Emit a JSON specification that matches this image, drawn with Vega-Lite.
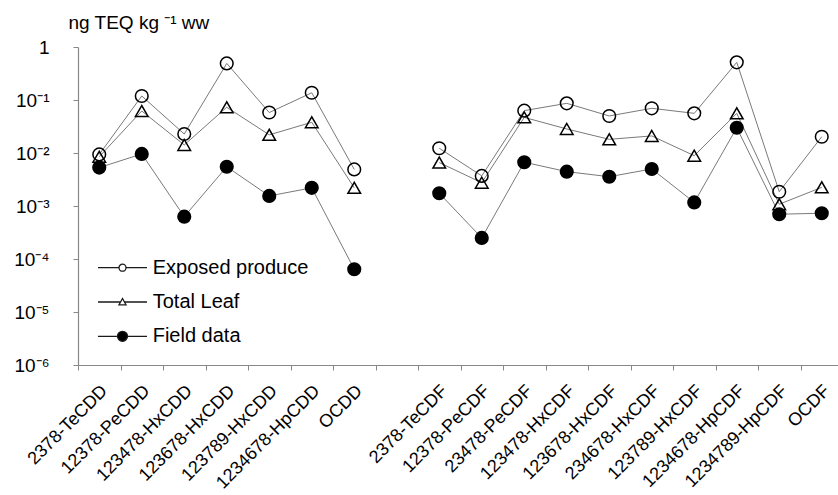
{
  "$schema": "https://vega.github.io/schema/vega-lite/v6.json",
  "autosize": {"type": "none"},
  "width": 760,
  "height": 318,
  "padding": {"left": 78, "top": 47, "right": 0, "bottom": 130},
  "background": "white",
  "config": {
    "font": "Liberation Sans",
    "view": {"stroke": null},
    "axis": {"grid": false, "domainColor": "#888888", "tickColor": "#888888", "labelColor": "#000000", "titleColor": "#000000", "labelFont": "Liberation Sans", "titleFont": "Liberation Sans"},
    "legend": {"labelFont": "Liberation Sans"}
  },
  "data": {
    "values": [
      {"compound": "2378-TeCDD", "group": "PCDD", "series": "Exposed produce", "value": 0.0094},
      {"compound": "12378-PeCDD", "group": "PCDD", "series": "Exposed produce", "value": 0.119},
      {"compound": "123478-HxCDD", "group": "PCDD", "series": "Exposed produce", "value": 0.0228},
      {"compound": "123678-HxCDD", "group": "PCDD", "series": "Exposed produce", "value": 0.49},
      {"compound": "123789-HxCDD", "group": "PCDD", "series": "Exposed produce", "value": 0.058},
      {"compound": "1234678-HpCDD", "group": "PCDD", "series": "Exposed produce", "value": 0.137},
      {"compound": "OCDD", "group": "PCDD", "series": "Exposed produce", "value": 0.0049},
      {"compound": "2378-TeCDF", "group": "PCDF", "series": "Exposed produce", "value": 0.0123},
      {"compound": "12378-PeCDF", "group": "PCDF", "series": "Exposed produce", "value": 0.0037},
      {"compound": "23478-PeCDF", "group": "PCDF", "series": "Exposed produce", "value": 0.063},
      {"compound": "123478-HxCDF", "group": "PCDF", "series": "Exposed produce", "value": 0.0865},
      {"compound": "123678-HxCDF", "group": "PCDF", "series": "Exposed produce", "value": 0.05},
      {"compound": "234678-HxCDF", "group": "PCDF", "series": "Exposed produce", "value": 0.0697},
      {"compound": "123789-HxCDF", "group": "PCDF", "series": "Exposed produce", "value": 0.056},
      {"compound": "1234678-HpCDF", "group": "PCDF", "series": "Exposed produce", "value": 0.514},
      {"compound": "1234789-HpCDF", "group": "PCDF", "series": "Exposed produce", "value": 0.00186},
      {"compound": "OCDF", "group": "PCDF", "series": "Exposed produce", "value": 0.0203},
      {"compound": "2378-TeCDD", "group": "PCDD", "series": "Total Leaf", "value": 0.0085},
      {"compound": "12378-PeCDD", "group": "PCDD", "series": "Total Leaf", "value": 0.062},
      {"compound": "123478-HxCDD", "group": "PCDD", "series": "Total Leaf", "value": 0.0142},
      {"compound": "123678-HxCDD", "group": "PCDD", "series": "Total Leaf", "value": 0.073},
      {"compound": "123789-HxCDD", "group": "PCDD", "series": "Total Leaf", "value": 0.022},
      {"compound": "1234678-HpCDD", "group": "PCDD", "series": "Total Leaf", "value": 0.038},
      {"compound": "OCDD", "group": "PCDD", "series": "Total Leaf", "value": 0.0022},
      {"compound": "2378-TeCDF", "group": "PCDF", "series": "Total Leaf", "value": 0.0066},
      {"compound": "12378-PeCDF", "group": "PCDF", "series": "Total Leaf", "value": 0.00275},
      {"compound": "23478-PeCDF", "group": "PCDF", "series": "Total Leaf", "value": 0.047},
      {"compound": "123478-HxCDF", "group": "PCDF", "series": "Total Leaf", "value": 0.0284},
      {"compound": "123678-HxCDF", "group": "PCDF", "series": "Total Leaf", "value": 0.0181},
      {"compound": "234678-HxCDF", "group": "PCDF", "series": "Total Leaf", "value": 0.021},
      {"compound": "123789-HxCDF", "group": "PCDF", "series": "Total Leaf", "value": 0.0089},
      {"compound": "1234678-HpCDF", "group": "PCDF", "series": "Total Leaf", "value": 0.056},
      {"compound": "1234789-HpCDF", "group": "PCDF", "series": "Total Leaf", "value": 0.00108},
      {"compound": "OCDF", "group": "PCDF", "series": "Total Leaf", "value": 0.00225},
      {"compound": "2378-TeCDD", "group": "PCDD", "series": "Field data", "value": 0.0053},
      {"compound": "12378-PeCDD", "group": "PCDD", "series": "Field data", "value": 0.0096},
      {"compound": "123478-HxCDD", "group": "PCDD", "series": "Field data", "value": 0.00063},
      {"compound": "123678-HxCDD", "group": "PCDD", "series": "Field data", "value": 0.0055},
      {"compound": "123789-HxCDD", "group": "PCDD", "series": "Field data", "value": 0.00155},
      {"compound": "1234678-HpCDD", "group": "PCDD", "series": "Field data", "value": 0.0022},
      {"compound": "OCDD", "group": "PCDD", "series": "Field data", "value": 0.000064},
      {"compound": "2378-TeCDF", "group": "PCDF", "series": "Field data", "value": 0.00174},
      {"compound": "12378-PeCDF", "group": "PCDF", "series": "Field data", "value": 0.00025},
      {"compound": "23478-PeCDF", "group": "PCDF", "series": "Field data", "value": 0.0067},
      {"compound": "123478-HxCDF", "group": "PCDF", "series": "Field data", "value": 0.00445},
      {"compound": "123678-HxCDF", "group": "PCDF", "series": "Field data", "value": 0.00357},
      {"compound": "234678-HxCDF", "group": "PCDF", "series": "Field data", "value": 0.005},
      {"compound": "123789-HxCDF", "group": "PCDF", "series": "Field data", "value": 0.00117},
      {"compound": "1234678-HpCDF", "group": "PCDF", "series": "Field data", "value": 0.03},
      {"compound": "1234789-HpCDF", "group": "PCDF", "series": "Field data", "value": 0.0007},
      {"compound": "OCDF", "group": "PCDF", "series": "Field data", "value": 0.00073}
    ]
  },
  "encoding": {
    "x": {
      "field": "compound",
      "type": "nominal",
      "sort": null,
      "scale": {
        "type": "band",
        "domain": ["2378-TeCDD", "12378-PeCDD", "123478-HxCDD", "123678-HxCDD", "123789-HxCDD", "1234678-HpCDD", "OCDD", " ", "2378-TeCDF", "12378-PeCDF", "23478-PeCDF", "123478-HxCDF", "123678-HxCDF", "234678-HxCDF", "123789-HxCDF", "1234678-HpCDF", "1234789-HpCDF", "OCDF"],
        "range": [0, 765],
        "paddingInner": 0,
        "paddingOuter": 0
      },
      "axis": {
        "title": null,
        "tickBand": "extent",
        "tickSize": 5,
        "labelAngle": -45,
        "labelAlign": "right",
        "labelBaseline": "middle",
        "labelPadding": 18,
        "labelOffset": 5,
        "labelFontSize": 18,
        "labelOverlap": false,
        "domainWidth": 1.2
      }
    },
    "y": {
      "field": "value",
      "type": "quantitative",
      "scale": {"type": "log", "domain": [0.000001, 1], "nice": false},
      "axis": {
        "title": "ng TEQ kg \u207b\u00b9 ww",
        "titleAngle": 0,
        "titleAlign": "left",
        "titleBaseline": "alphabetic",
        "titleX": -10,
        "titleY": -19,
        "titleFontSize": 19,
        "titleFontWeight": "normal",
        "values": [0.000001, 0.00001, 0.0001, 0.001, 0.01, 0.1, 1],
        "labelExpr": "datum.value >= 1 ? '1' : '10' + ['\u2070','\u207b\u00b9','\u207b\u00b2','\u207b\u00b3','\u207b\u2074','\u207b\u2075','\u207b\u2076'][round(-log(datum.value)/LN10)]",
        "labelFontSize": 19,
        "labelPadding": 24,
        "labelOverlap": false,
        "tickSize": 5,
        "domainWidth": 1.2
      }
    }
  },
  "layer": [
    {
      "mark": {"type": "line", "color": "#7a7a7a", "strokeWidth": 1},
      "encoding": {
        "detail": [{"field": "series"}, {"field": "group"}],
        "order": {"value": null}
      }
    },
    {
      "mark": {"type": "point", "opacity": 1, "strokeWidth": 1.5, "stroke": "black", "size": 160},
      "encoding": {
        "shape": {
          "field": "series",
          "type": "nominal",
          "scale": {"domain": ["Exposed produce", "Total Leaf", "Field data"], "range": ["circle", "triangle-up", "circle"]},
          "legend": null
        },
        "fill": {
          "field": "series",
          "type": "nominal",
          "scale": {"domain": ["Exposed produce", "Total Leaf", "Field data"], "range": ["transparent", "transparent", "black"]},
          "legend": null
        }
      }
    },
    {
      "mark": {"type": "point", "opacity": 0, "strokeWidth": 1.5, "size": 10},
      "encoding": {
        "shape": {
          "field": "series",
          "type": "nominal",
          "scale": {
            "domain": ["Exposed produce", "Total Leaf", "Field data"],
            "range": [
              "M -0.67 0 L 1.43 0 M 2.13 0 L 4.23 0 M 1.43 0 A 0.35 0.35 0 1 0 2.13 0 A 0.35 0.35 0 1 0 1.43 0",
              "M -0.67 0 L 1.585 0 M 1.975 0 L 4.23 0 M 1.78 -0.35 L 1.43 0.28 L 2.13 0.28 Z",
              "M -0.67 0 L 1.28 0 M 2.28 0 L 4.23 0 M 1.28 0 A 0.5 0.5 0 1 0 2.28 0 A 0.5 0.5 0 1 0 1.28 0"
            ]
          },
          "legend": {
            "title": null,
            "orient": "none",
            "legendX": 15.7,
            "legendY": 209.7,
            "padding": 0,
            "symbolSize": 400,
            "symbolStrokeWidth": 1.3,
            "symbolOpacity": 1,
            "labelOffset": 37,
            "rowPadding": 13.3,
            "labelFontSize": 20,
            "labelColor": "black",
            "labelBaseline": "middle",
            "direction": "vertical"
          }
        },
        "fill": {
          "field": "series",
          "type": "nominal",
          "scale": {"domain": ["Exposed produce", "Total Leaf", "Field data"], "range": ["transparent", "transparent", "black"]}
        },
        "stroke": {
          "field": "series",
          "type": "nominal",
          "scale": {"domain": ["Exposed produce", "Total Leaf", "Field data"], "range": ["#1a1a1a", "#1a1a1a", "#1a1a1a"]}
        }
      }
    }
  ],
  "resolve": {
    "scale": {"shape": "independent", "fill": "independent", "stroke": "independent"},
    "legend": {"shape": "independent", "fill": "independent", "stroke": "independent"}
  }
}
